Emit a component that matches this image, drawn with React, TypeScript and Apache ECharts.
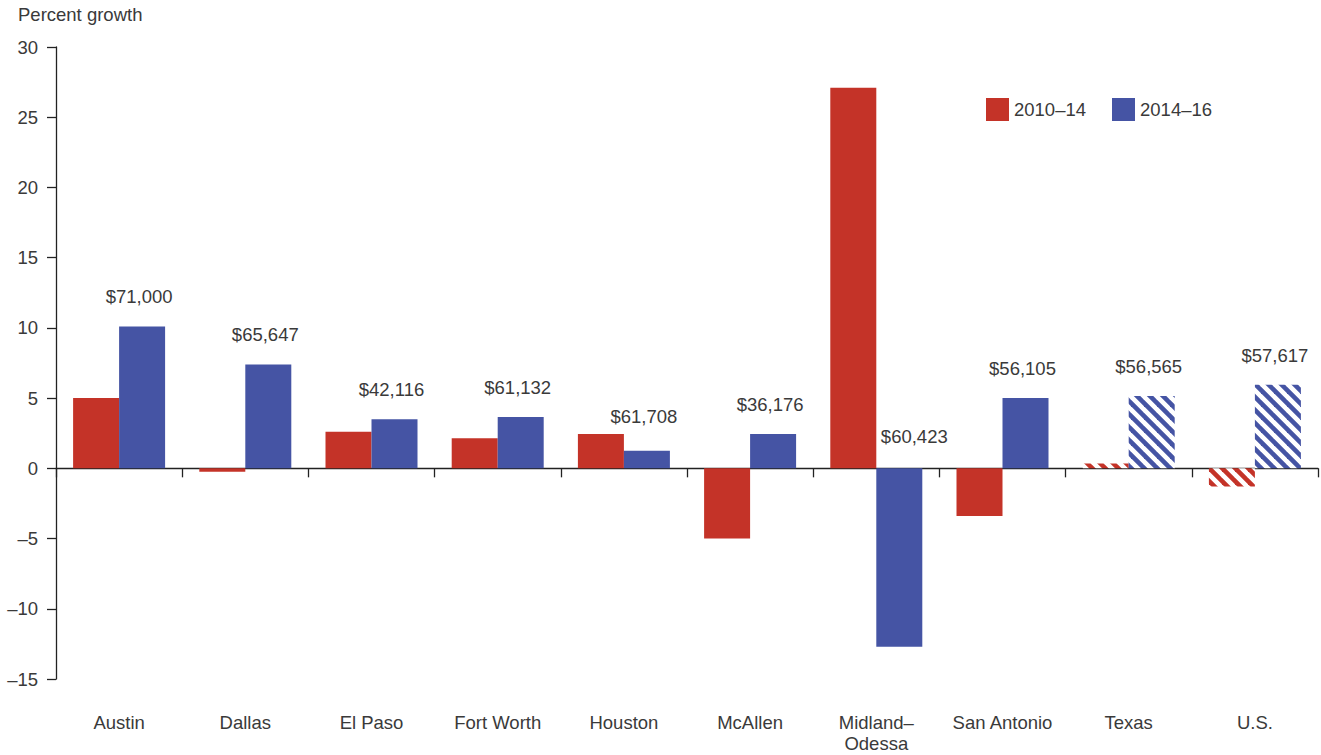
import React, { useEffect, useRef } from "react";
import * as echarts from "echarts";

const categories = [
  "Austin",
  "Dallas",
  "El Paso",
  "Fort Worth",
  "Houston",
  "McAllen",
  "Midland–\nOdessa",
  "San Antonio",
  "Texas",
  "U.S.",
];
const growth2010_14 = [5.0, -0.25, 2.6, 2.15, 2.45, -5.0, 27.1, -3.4, 0.35, -1.3];
const growth2014_16 = [10.1, 7.4, 3.5, 3.65, 1.25, 2.45, -12.7, 5.0, 5.15, 5.95];
const incomeLabels = [
  "$71,000",
  "$65,647",
  "$42,116",
  "$61,132",
  "$61,708",
  "$36,176",
  "$60,423",
  "$56,105",
  "$56,565",
  "$57,617",
];
const hatchedCategories = ["Texas", "U.S."];
const seriesNames = ["2010–14", "2014–16"];

const RED = "#C43328";
const BLUE = "#4554A4";
const TEXT = "#3a3a3a";
const FONT = "Liberation Sans, Arial, sans-serif";
const FS = 18.5;

function hatch(color: string) {
  const s = 13;
  const c = document.createElement("canvas");
  c.width = s;
  c.height = s;
  const ctx = c.getContext("2d")!;
  ctx.fillStyle = "#fff";
  ctx.fillRect(0, 0, s, s);
  ctx.strokeStyle = color;
  ctx.lineWidth = 4.6;
  for (const o of [-s, 0, s]) {
    ctx.beginPath();
    ctx.moveTo(o - 3, -3);
    ctx.lineTo(o + s + 3, s + 3);
    ctx.stroke();
  }
  return { image: c, repeat: "repeat" } as any;
}

export default function App() {
  const ref = useRef<HTMLDivElement>(null);
  useEffect(() => {
    if (!ref.current) return;
    const chart = echarts.init(ref.current, null, { renderer: "svg" });
    const redHatch = hatch(RED);
    const blueHatch = hatch(BLUE);

    const redData = growth2010_14.map((v, i) =>
      hatchedCategories.includes(categories[i])
        ? { value: v, itemStyle: { color: redHatch } }
        : { value: v }
    );
    const blueData = growth2014_16.map((v, i) => {
      const item: any = { value: v };
      if (hatchedCategories.includes(categories[i])) item.itemStyle = { color: blueHatch };
      if (categories[i] === "Houston") item.label = { distance: 25 };
      if (categories[i].startsWith("Midland")) item.label = { offset: [15, 0], distance: 22 };
      return item;
    });

    chart.setOption({
      animation: false,
      textStyle: { fontFamily: FONT },
      title: {
        text: "Percent growth",
        left: 18,
        top: 5,
        padding: 0,
        textStyle: { fontSize: FS, fontWeight: "normal", color: TEXT, fontFamily: FONT },
      },
      legend: {
        left: 986,
        top: 98,
        padding: 0,
        itemWidth: 23,
        itemHeight: 23,
        itemGap: 26,
        icon: "rect",
        data: seriesNames,
        textStyle: { fontSize: FS, color: TEXT, fontFamily: FONT },
      },
      grid: { left: 56, right: 3, top: 47, bottom: 76, containLabel: false },
      xAxis: [
        {
          type: "category",
          data: categories,
          position: "bottom",
          axisLine: { show: false, onZero: false },
          axisTick: { show: false },
          axisLabel: {
            margin: 33,
            fontSize: FS,
            color: TEXT,
            lineHeight: 21,
            fontFamily: FONT,
            interval: 0,
          },
        },
        {
          type: "category",
          data: categories,
          position: "bottom",
          axisLine: { show: true, onZero: true, lineStyle: { color: "#222", width: 1.3 } },
          axisTick: { show: true, length: 9, lineStyle: { color: "#222", width: 1.3 } },
          axisLabel: { show: false },
        },
      ],
      yAxis: {
        type: "value",
        min: -15,
        max: 30,
        interval: 5,
        splitLine: { show: false },
        axisLine: { show: true, lineStyle: { color: "#222", width: 1.3 } },
        axisTick: { show: true, length: 9, lineStyle: { color: "#222", width: 1.3 } },
        axisLabel: {
          margin: 18,
          fontSize: FS,
          color: TEXT,
          fontFamily: FONT,
          formatter: (v: number) => (v < 0 ? "–" + Math.abs(v) : String(v)),
        },
      },
      series: [
        {
          name: seriesNames[0],
          type: "bar",
          xAxisIndex: 0,
          barWidth: 46,
          barGap: "0%",
          itemStyle: { color: RED },
          data: redData,
        },
        {
          name: seriesNames[1],
          type: "bar",
          xAxisIndex: 0,
          barWidth: 46,
          barGap: "0%",
          itemStyle: { color: BLUE },
          label: {
            show: true,
            position: "top",
            distance: 20,
            offset: [-3, 0],
            fontSize: FS,
            color: TEXT,
            fontFamily: FONT,
            formatter: (p: any) => incomeLabels[p.dataIndex],
          },
          data: blueData,
        },
      ],
    });
    return () => chart.dispose();
  }, []);
  return (
    <div
      ref={ref}
      style={{ position: "fixed", left: 0, top: 0, width: 1321, height: 755, background: "#fff" }}
    />
  );
}
